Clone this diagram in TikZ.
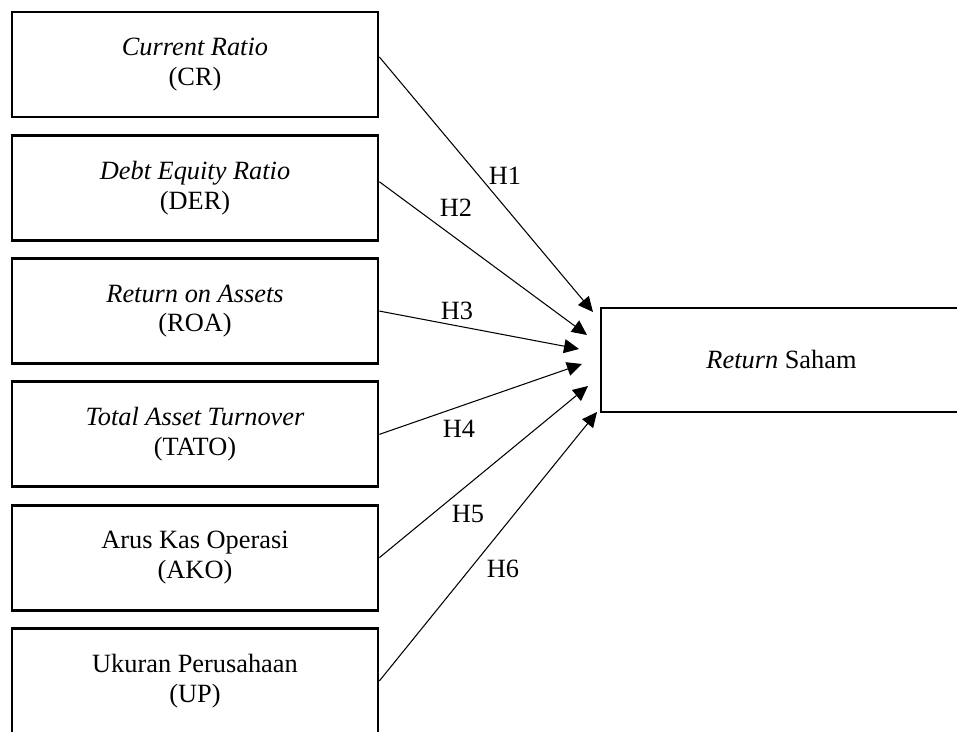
\documentclass[tikz,border=0pt]{standalone}
\usepackage{fontspec}
\setmainfont{Liberation Serif}
\usetikzlibrary{positioning,arrows.meta}

\begin{document}
\begin{tikzpicture}[x=0.02cm, y=-0.02cm, node distance=0.31cm,
  every node/.style={font=\fontsize{15}{17}\selectfont, align=center},
  varbox/.style={draw, line width=1.6pt, minimum width=7.32cm, minimum height=2.1cm},
  hyp/.style={inner sep=0pt},
  link/.style={-{Triangle[length=0.3cm, width=0.28cm]}, line width=0.6pt}]
\useasboundingbox (0,0) rectangle (957,732);
\clip (0,0) rectangle (957,732);
% independent variables
\node[varbox] (cr) at (195,64.5) {\textit{Current Ratio}\\(CR)};
\node[varbox, below=of cr] (der) {\textit{Debt Equity Ratio}\\(DER)};
\node[varbox, below=of der] (roa) {\textit{Return on Assets}\\(ROA)};
\node[varbox, below=of roa] (tato) {\textit{Total Asset Turnover}\\(TATO)};
\node[varbox, below=of tato] (ako) {Arus Kas Operasi\\(AKO)};
\node[varbox, below=of ako] (up) {Ukuran Perusahaan\\(UP)};
% dependent variable
\node[varbox, minimum width=7.22cm, minimum height=2.08cm] (rs) at (781.5,360) {\textit{Return} Saham};
\coordinate (t1) at (593,312);
\coordinate (t2) at (587,335);
\coordinate (t3) at (579,349);
\coordinate (t4) at (582,364);
\coordinate (t5) at (588,386);
\coordinate (t6) at (597,412);
\draw[link] ([yshift=0.15cm]cr.east) -- (t1);
\draw[link] ([yshift=0.12cm]der.east) -- (t2);
\draw[link] (roa.east) -- (t3);
\draw[link] (tato.east) -- (t4);
\draw[link] (ako.east) -- (t5);
\draw[link] (up.east) -- (t6);
\node[hyp] (h1) at (505,176) {H1};
\node[hyp] (h2) at (456,208) {H2};
\node[hyp] (h3) at (457,311) {H3};
\node[hyp] (h4) at (459,429) {H4};
\node[hyp] (h5) at (468,514) {H5};
\node[hyp] (h6) at (503,569) {H6};
\end{tikzpicture}
\end{document}
